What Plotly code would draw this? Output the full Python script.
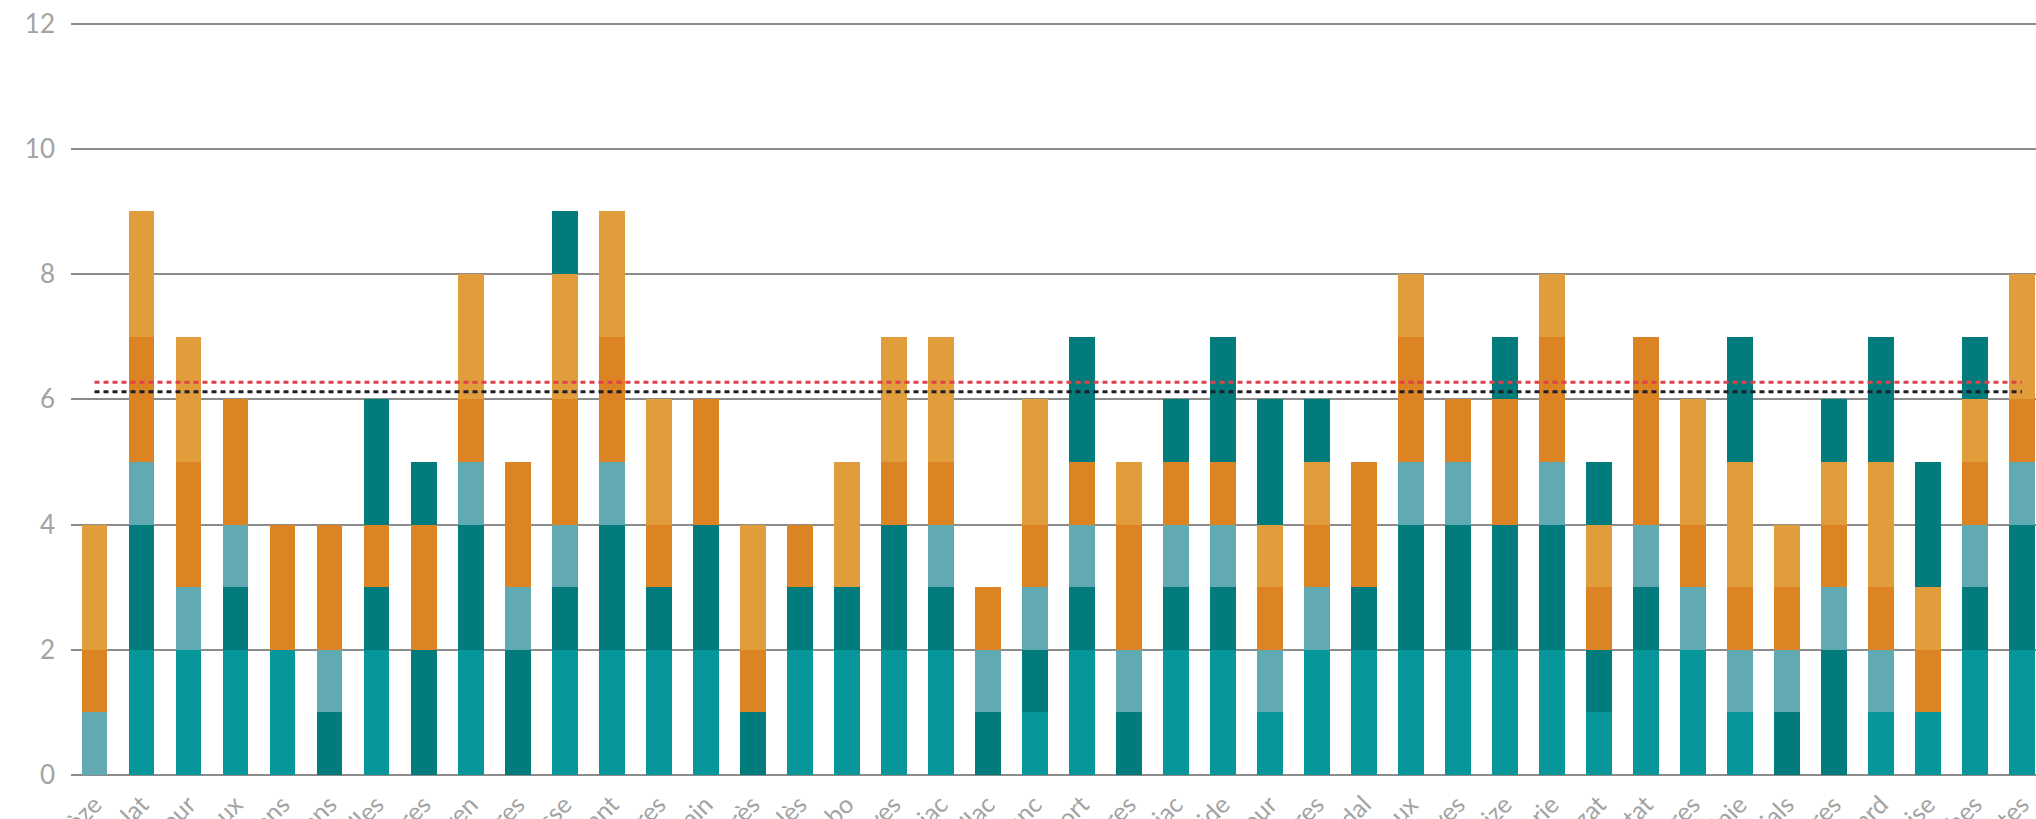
import plotly.graph_objects as go

categories = [
    "Corrèze", "Le Vialat", "Chadour", "Champagnoux", "Égletons", "Les Vergnons",
    "Saint-Germain-les-Belles", "Lagraulières", "Ayen", "Chanteix-Bassignères",
    "Lamazière-Basse", "Saint-Chamant", "Chameyrat-Ferrières", "Saint-Sylvain",
    "Sainte-Ferrès", "Saint-Viance-Paulès", "Sainte-Cambo", "Naves", "Saint-Cyriac",
    "La Roche-Canillac", "Saint-Blanc", "Malemort", "Les Angles-Sarrières",
    "Marcillac-Sériac", "Sainte-Fortunide", "Latour", "Ambrugeat-Lières",
    "Saint-Privadal", "Lapleaux", "Neuvic-Chaves", "Saint-Bonnet-Brize",
    "Beaumarie", "Saint-Bazat", "Argentat", "Sornac-Vallières", "Chamboulinie",
    "Saint-Martials", "Davignac-Bussières", "Bort-Liard", "Laroche-Moise",
    "Sarran-Sèches", "Meymac-Hautes",
]

s_teal        = [0,2,2,2,2,0,2,0,2,0,2,2,2,2,0,2,2,2,2,0,1,2,0,2,2,1,2,2,2,2,2,2,1,2,2,1,0,0,1,1,2,2]
s_dark_teal   = [0,2,0,1,0,1,1,2,2,2,1,2,1,2,1,1,1,2,1,1,1,1,1,1,1,0,0,1,2,2,2,2,1,1,0,0,1,2,0,0,1,2]
s_light_teal  = [1,1,1,1,0,1,0,0,1,1,1,1,0,0,0,0,0,0,1,1,1,1,1,1,1,1,1,0,1,1,0,1,0,1,1,1,1,1,1,0,1,1]
s_dark_orange = [1,2,2,2,2,2,1,2,1,2,2,2,1,2,1,1,0,1,1,1,1,1,2,1,1,1,1,2,2,1,2,2,1,3,1,1,1,1,1,1,1,1]
s_light_orange= [2,2,2,0,0,0,0,0,2,0,2,2,2,0,2,0,2,2,2,0,2,0,1,0,0,1,1,0,1,0,0,1,1,0,2,2,1,1,2,1,1,2]
s_top_teal    = [0,0,0,0,0,0,2,1,0,0,1,0,0,0,0,0,0,0,0,0,0,2,0,1,2,2,1,0,0,0,1,0,1,0,0,2,0,1,2,2,1,0]

red_level = 6.27
black_level = 6.12

y_ticks = [0, 2, 4, 6, 8, 10, 12]

series = [
    (s_teal, "#07979b"),
    (s_dark_teal, "#027b7c"),
    (s_light_teal, "#62aab3"),
    (s_dark_orange, "#dc8324"),
    (s_light_orange, "#e19d3c"),
    (s_top_teal, "#027b7c"),
]

fig = go.Figure()
for vals, col in series:
    fig.add_trace(go.Bar(
        x=categories, y=vals, marker=dict(color=col, line=dict(width=0)),
        showlegend=False, hoverinfo="skip",
    ))

fig.add_trace(go.Scatter(
    x=[categories[0], categories[-1]], y=[red_level, red_level], mode="lines",
    line=dict(color="#e0404a", width=3, dash="5px,4px"), showlegend=False, hoverinfo="skip",
))
fig.add_trace(go.Scatter(
    x=[categories[0], categories[-1]], y=[black_level, black_level], mode="lines",
    line=dict(color="#1e1e28", width=3, dash="5px,4px"), showlegend=False, hoverinfo="skip",
))

fig.update_layout(
    width=2036, height=819,
    barmode="stack", bargap=0.45,
    margin=dict(l=71, r=0, t=21, b=44),
    paper_bgcolor="white", plot_bgcolor="white",
    font=dict(family="Lato, Open Sans, sans-serif", color="#a3a3a3"),
)
fig.update_xaxes(
    type="category", range=[-0.5, 41.3], tickangle=-45, automargin=False,
    showgrid=False, showline=False, zeroline=False, ticks="",
    ticklabelstandoff=9,
    tickfont=dict(size=25, color="#a3a3a3"),
)
fig.update_yaxes(
    range=[0, 12.04], tickvals=y_ticks, automargin=False,
    showgrid=True, gridcolor="#8c8c8c", gridwidth=2,
    zeroline=True, zerolinecolor="#8c8c8c", zerolinewidth=2,
    showline=False, ticks="", ticklabelstandoff=15,
    tickfont=dict(size=26, color="#a3a3a3"),
)

fig.write_html(
    "out.html",
    config={"displayModeBar": False},
    post_script="document.body.style.margin='0';document.body.style.overflow='hidden';",
)
